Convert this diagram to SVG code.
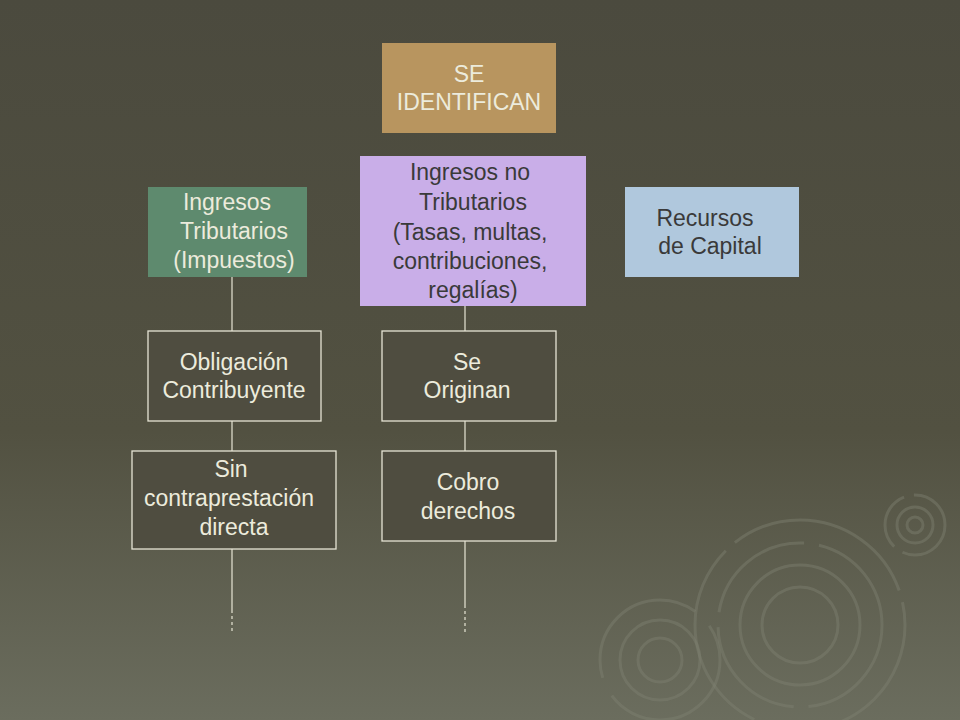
<svg xmlns="http://www.w3.org/2000/svg" width="960" height="720" viewBox="0 0 960 720">
<defs>
<linearGradient id="bg" x1="0" y1="0" x2="0" y2="1">
<stop offset="0" stop-color="#4b4a3e"/><stop offset="0.6" stop-color="#525141"/><stop offset="1" stop-color="#6b6d5e"/>
</linearGradient>
</defs>
<style>
text{font-family:"Liberation Sans",Arial,sans-serif;font-size:23px;text-anchor:middle}
.lt{fill:#ecebdc}.dk{fill:#3a3a3a}
.ob{fill:#4f4d40;stroke:#e6e4d4;stroke-width:1.3}
.cn{stroke:#e6e4d4;stroke-width:1.2;fill:none}
.rp{fill:none;stroke:#7e8170;stroke-width:3;opacity:0.45}
</style>
<rect width="960" height="720" fill="url(#bg)"/>
<g id="ripples">
<circle class="rp" cx="800" cy="625" r="105" stroke-dasharray="200 12"/>
<circle class="rp" cx="800" cy="625" r="82" stroke-dasharray="120 15"/>
<circle class="rp" cx="800" cy="625" r="60"/>
<circle class="rp" cx="800" cy="625" r="38"/>
<circle class="rp" cx="660" cy="660" r="60" stroke-dasharray="150 20"/>
<circle class="rp" cx="660" cy="660" r="40"/>
<circle class="rp" cx="660" cy="660" r="22"/>
<circle class="rp" cx="915" cy="525" r="30" stroke-dasharray="60 10"/>
<circle class="rp" cx="915" cy="525" r="18"/>
<circle class="rp" cx="915" cy="525" r="8"/>
</g>
<g id="connectors">
<path class="cn" d="M232 277V331M232 421V451M232 549V610M465 306V331M465 421V451M465 541V605"/>
<path class="cn" stroke-dasharray="3 3" d="M232 610V632M465 605V632"/>
</g>
<g id="se"><rect x="382" y="43" width="174" height="90" fill="#b8955f"/><text class="lt" x="469" y="82">SE</text><text class="lt" x="469" y="110">IDENTIFICAN</text></g>
<g id="trib"><rect x="148" y="187" width="159" height="90" fill="#5e8a6e"/><text class="lt" x="227" y="210">Ingresos</text><text class="lt" x="234" y="239">Tributarios</text><text class="lt" x="234" y="268">(Impuestos)</text></g>
<g id="notrib"><rect x="360" y="156" width="226" height="150" fill="#c9aee8"/><text class="dk" x="470" y="180">Ingresos no</text><text class="dk" x="473" y="210">Tributarios</text><text class="dk" x="470" y="240">(Tasas, multas,</text><text class="dk" x="470" y="269">contribuciones,</text><text class="dk" x="473" y="298">regalías)</text></g>
<g id="capital"><rect x="625" y="187" width="174" height="90" fill="#b0c8dd"/><text class="dk" x="705" y="226">Recursos</text><text class="dk" x="710" y="254">de Capital</text></g>
<g id="oblig"><rect class="ob" x="148" y="331" width="173" height="90"/><text class="lt" x="234" y="370">Obligación</text><text class="lt" x="234" y="398">Contribuyente</text></g>
<g id="orig"><rect class="ob" x="382" y="331" width="174" height="90"/><text class="lt" x="467" y="370">Se</text><text class="lt" x="467" y="398">Originan</text></g>
<g id="sin"><rect class="ob" x="132" y="451" width="204" height="98"/><text class="lt" x="231" y="477">Sin</text><text class="lt" x="229" y="506">contraprestación</text><text class="lt" x="234" y="535">directa</text></g>
<g id="cobro"><rect class="ob" x="382" y="451" width="174" height="90"/><text class="lt" x="468" y="490">Cobro</text><text class="lt" x="468" y="519">derechos</text></g>
</svg>
